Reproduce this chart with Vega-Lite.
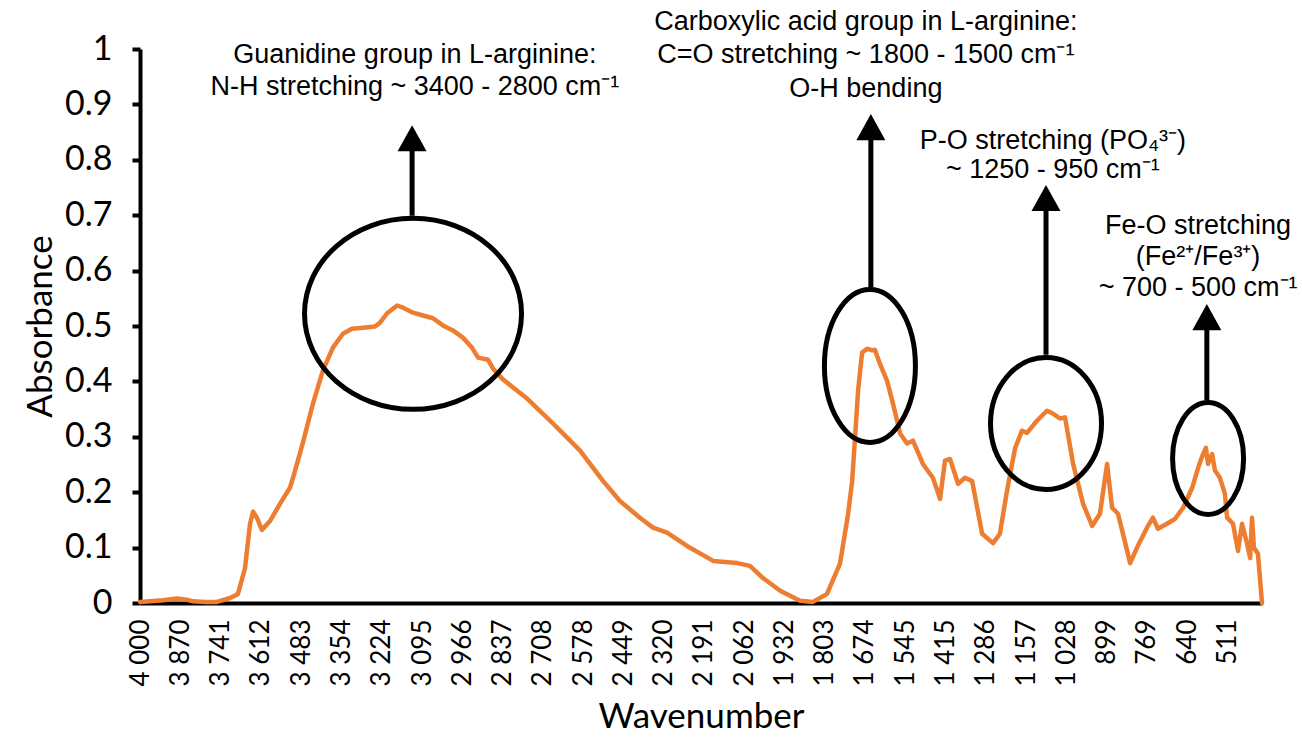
{
  "$schema": "https://vega.github.io/schema/vega-lite/v6.json",
  "width": 1122,
  "height": 554,
  "autosize": {"type": "none"},
  "padding": {"left": 140, "top": 49, "right": 40, "bottom": 139},
  "background": "white",
  "config": {"view": {"stroke": null}},
  "datasets": {
    "spectrum": [
      {"wavenumber": 4000, "absorbance": 0.002},
      {"wavenumber": 3926, "absorbance": 0.005},
      {"wavenumber": 3881, "absorbance": 0.008},
      {"wavenumber": 3850, "absorbance": 0.006},
      {"wavenumber": 3830, "absorbance": 0.003},
      {"wavenumber": 3790, "absorbance": 0.002},
      {"wavenumber": 3753, "absorbance": 0.002},
      {"wavenumber": 3711, "absorbance": 0.009},
      {"wavenumber": 3686, "absorbance": 0.016},
      {"wavenumber": 3663, "absorbance": 0.063},
      {"wavenumber": 3647, "absorbance": 0.143},
      {"wavenumber": 3637, "absorbance": 0.165},
      {"wavenumber": 3625, "absorbance": 0.154},
      {"wavenumber": 3609, "absorbance": 0.132},
      {"wavenumber": 3583, "absorbance": 0.148},
      {"wavenumber": 3551, "absorbance": 0.179},
      {"wavenumber": 3519, "absorbance": 0.208},
      {"wavenumber": 3509, "absorbance": 0.226},
      {"wavenumber": 3477, "absorbance": 0.29},
      {"wavenumber": 3445, "absorbance": 0.36},
      {"wavenumber": 3413, "absorbance": 0.42},
      {"wavenumber": 3381, "absorbance": 0.461},
      {"wavenumber": 3349, "absorbance": 0.486},
      {"wavenumber": 3320, "absorbance": 0.495},
      {"wavenumber": 3284, "absorbance": 0.497},
      {"wavenumber": 3246, "absorbance": 0.499},
      {"wavenumber": 3230, "absorbance": 0.506},
      {"wavenumber": 3207, "absorbance": 0.523},
      {"wavenumber": 3175, "absorbance": 0.537},
      {"wavenumber": 3156, "absorbance": 0.533},
      {"wavenumber": 3124, "absorbance": 0.524},
      {"wavenumber": 3092, "absorbance": 0.519},
      {"wavenumber": 3060, "absorbance": 0.514},
      {"wavenumber": 3028, "absorbance": 0.501},
      {"wavenumber": 2996, "absorbance": 0.492},
      {"wavenumber": 2964, "absorbance": 0.479},
      {"wavenumber": 2935, "absorbance": 0.461},
      {"wavenumber": 2915, "absorbance": 0.443},
      {"wavenumber": 2883, "absorbance": 0.439},
      {"wavenumber": 2867, "absorbance": 0.423},
      {"wavenumber": 2838, "absorbance": 0.405},
      {"wavenumber": 2803, "absorbance": 0.389},
      {"wavenumber": 2758, "absorbance": 0.369},
      {"wavenumber": 2717, "absorbance": 0.347},
      {"wavenumber": 2675, "absorbance": 0.324},
      {"wavenumber": 2652, "absorbance": 0.311},
      {"wavenumber": 2588, "absorbance": 0.275},
      {"wavenumber": 2514, "absorbance": 0.22},
      {"wavenumber": 2460, "absorbance": 0.184},
      {"wavenumber": 2396, "absorbance": 0.154},
      {"wavenumber": 2354, "absorbance": 0.136},
      {"wavenumber": 2309, "absorbance": 0.127},
      {"wavenumber": 2245, "absorbance": 0.103},
      {"wavenumber": 2161, "absorbance": 0.076},
      {"wavenumber": 2084, "absorbance": 0.072},
      {"wavenumber": 2043, "absorbance": 0.067},
      {"wavenumber": 2001, "absorbance": 0.045},
      {"wavenumber": 1946, "absorbance": 0.022},
      {"wavenumber": 1882, "absorbance": 0.004},
      {"wavenumber": 1841, "absorbance": 0.002},
      {"wavenumber": 1796, "absorbance": 0.016},
      {"wavenumber": 1754, "absorbance": 0.071},
      {"wavenumber": 1728, "absorbance": 0.161},
      {"wavenumber": 1715, "absorbance": 0.22},
      {"wavenumber": 1696, "absorbance": 0.383},
      {"wavenumber": 1683, "absorbance": 0.452},
      {"wavenumber": 1667, "absorbance": 0.459},
      {"wavenumber": 1651, "absorbance": 0.456},
      {"wavenumber": 1642, "absorbance": 0.457},
      {"wavenumber": 1626, "absorbance": 0.432},
      {"wavenumber": 1603, "absorbance": 0.401},
      {"wavenumber": 1584, "absorbance": 0.36},
      {"wavenumber": 1561, "absorbance": 0.306},
      {"wavenumber": 1539, "absorbance": 0.288},
      {"wavenumber": 1520, "absorbance": 0.293},
      {"wavenumber": 1488, "absorbance": 0.251},
      {"wavenumber": 1456, "absorbance": 0.226},
      {"wavenumber": 1433, "absorbance": 0.188},
      {"wavenumber": 1417, "absorbance": 0.257},
      {"wavenumber": 1401, "absorbance": 0.26},
      {"wavenumber": 1375, "absorbance": 0.215},
      {"wavenumber": 1353, "absorbance": 0.226},
      {"wavenumber": 1330, "absorbance": 0.22},
      {"wavenumber": 1298, "absorbance": 0.125},
      {"wavenumber": 1263, "absorbance": 0.108},
      {"wavenumber": 1241, "absorbance": 0.125},
      {"wavenumber": 1218, "absorbance": 0.203},
      {"wavenumber": 1192, "absorbance": 0.28},
      {"wavenumber": 1170, "absorbance": 0.311},
      {"wavenumber": 1154, "absorbance": 0.307},
      {"wavenumber": 1122, "absorbance": 0.329},
      {"wavenumber": 1090, "absorbance": 0.347},
      {"wavenumber": 1071, "absorbance": 0.342},
      {"wavenumber": 1048, "absorbance": 0.333},
      {"wavenumber": 1032, "absorbance": 0.335},
      {"wavenumber": 1006, "absorbance": 0.251},
      {"wavenumber": 974, "absorbance": 0.179},
      {"wavenumber": 945, "absorbance": 0.139},
      {"wavenumber": 920, "absorbance": 0.161},
      {"wavenumber": 897, "absorbance": 0.251},
      {"wavenumber": 881, "absorbance": 0.172},
      {"wavenumber": 862, "absorbance": 0.161},
      {"wavenumber": 823, "absorbance": 0.072},
      {"wavenumber": 801, "absorbance": 0.1},
      {"wavenumber": 769, "absorbance": 0.136},
      {"wavenumber": 750, "absorbance": 0.154},
      {"wavenumber": 734, "absorbance": 0.134},
      {"wavenumber": 705, "absorbance": 0.143},
      {"wavenumber": 679, "absorbance": 0.152},
      {"wavenumber": 653, "absorbance": 0.172},
      {"wavenumber": 624, "absorbance": 0.208},
      {"wavenumber": 605, "absorbance": 0.244},
      {"wavenumber": 589, "absorbance": 0.269},
      {"wavenumber": 580, "absorbance": 0.28},
      {"wavenumber": 573, "absorbance": 0.251},
      {"wavenumber": 560, "absorbance": 0.269},
      {"wavenumber": 551, "absorbance": 0.239},
      {"wavenumber": 535, "absorbance": 0.226},
      {"wavenumber": 519, "absorbance": 0.197},
      {"wavenumber": 512, "absorbance": 0.154},
      {"wavenumber": 493, "absorbance": 0.143},
      {"wavenumber": 477, "absorbance": 0.094},
      {"wavenumber": 464, "absorbance": 0.143},
      {"wavenumber": 448, "absorbance": 0.107},
      {"wavenumber": 438, "absorbance": 0.081},
      {"wavenumber": 432, "absorbance": 0.154},
      {"wavenumber": 426, "absorbance": 0.1},
      {"wavenumber": 413, "absorbance": 0.089},
      {"wavenumber": 400, "absorbance": 0.0}
    ],
    "ellipses": [
      {"group": "guanidine", "wavenumber": 3124, "absorbance": 0.522},
      {"group": "carboxylic", "wavenumber": 1658, "absorbance": 0.428},
      {"group": "phosphate", "wavenumber": 1093, "absorbance": 0.324},
      {"group": "iron", "wavenumber": 573, "absorbance": 0.261}
    ],
    "arrows": [
      {"group": "guanidine", "wavenumber": 3127, "absorbance": 0.699, "absorbance2": 0.818, "head": 0.839},
      {"group": "carboxylic", "wavenumber": 1655, "absorbance": 0.57, "absorbance2": 0.838, "head": 0.859},
      {"group": "phosphate", "wavenumber": 1093, "absorbance": 0.448, "absorbance2": 0.709, "head": 0.731},
      {"group": "iron", "wavenumber": 577, "absorbance": 0.366, "absorbance2": 0.495, "head": 0.516}
    ],
    "labels": [
      {"wavenumber": 3118, "absorbance": 0.989, "text": "Guanidine group in L-arginine:"},
      {"wavenumber": 3118, "absorbance": 0.931, "text": "N-H stretching ~ 3400 - 2800 cm⁻¹"},
      {"wavenumber": 1671, "absorbance": 1.049, "text": "Carboxylic acid group in L-arginine:"},
      {"wavenumber": 1671, "absorbance": 0.989, "text": "C=O stretching ~ 1800 - 1500 cm⁻¹"},
      {"wavenumber": 1671, "absorbance": 0.928, "text": "O-H bending"},
      {"wavenumber": 1071, "absorbance": 0.834, "text": "P-O stretching (PO₄³⁻)"},
      {"wavenumber": 1071, "absorbance": 0.782, "text": "~ 1250 - 950 cm⁻¹"},
      {"wavenumber": 605, "absorbance": 0.681, "text": "Fe-O stretching"},
      {"wavenumber": 605, "absorbance": 0.625, "text": "(Fe²⁺/Fe³⁺)"},
      {"wavenumber": 605, "absorbance": 0.569, "text": "~ 700 - 500 cm⁻¹"}
    ]
  },
  "layer": [
    {
      "data": {"name": "spectrum"},
      "mark": {"type": "line", "color": "#ED7D31", "strokeWidth": 4.5, "strokeJoin": "round", "strokeCap": "round"},
      "encoding": {
        "x": {
          "field": "wavenumber", "type": "quantitative",
          "scale": {"domain": [400, 4000], "reverse": true, "nice": false, "zero": false},
          "axis": {
            "title": "Wavenumber",
            "values": [4000,3870,3741,3612,3483,3354,3224,3095,2966,2837,2708,2578,2449,2320,2191,2062,1932,1803,1674,1545,1415,1286,1157,1028,899,769,640,511],
            "labelExpr": "replace(format(datum.value, ','), ',', ' ')",
            "labelAngle": -90, "labelAlign": "right", "labelBaseline": "middle",
            "labelFont": "Lato", "labelFontSize": 26, "labelColor": "black",
            "labelPadding": 16, "labelOverlap": false, "labelBound": false, "labelFlush": false,
            "ticks": false, "grid": false,
            "domainColor": "black", "domainWidth": 4,
            "titleFont": "Lato", "titleFontSize": 35, "titleFontWeight": "normal", "titleColor": "black", "titlePadding": 14
          }
        },
        "y": {
          "field": "absorbance", "type": "quantitative",
          "scale": {"domain": [0, 1], "nice": false},
          "axis": {
            "title": "Absorbance",
            "values": [0, 0.1, 0.2, 0.3, 0.4, 0.5, 0.6, 0.7, 0.8, 0.9, 1],
            "format": ".1~f",
            "labelFont": "Lato", "labelFontSize": 34, "labelColor": "black", "labelPadding": 20,
            "grid": false, "tickColor": "black", "tickWidth": 4, "tickSize": 8,
            "domainColor": "black", "domainWidth": 4,
            "titleFont": "Lato", "titleFontSize": 35, "titleFontWeight": "normal", "titleColor": "black", "titlePadding": 6
          }
        }
      }
    },
    {
      "data": {"name": "ellipses"},
      "mark": {"type": "point", "filled": false, "stroke": "black", "strokeWidth": 5, "size": 40000, "opacity": 1},
      "encoding": {
        "x": {"field": "wavenumber", "type": "quantitative"},
        "y": {"field": "absorbance", "type": "quantitative"},
        "shape": {
          "field": "group", "type": "nominal", "legend": null,
          "scale": {
            "domain": ["guanidine", "carboxylic", "phosphate", "iron"],
            "range": [
              "M -1.085 0 A 1.085 0.955 0 1 0 1.085 0 A 1.085 0.955 0 1 0 -1.085 0 Z",
              "M -0.455 0 A 0.455 0.765 0 1 0 0.455 0 A 0.455 0.765 0 1 0 -0.455 0 Z",
              "M -0.555 0 A 0.555 0.66 0 1 0 0.555 0 A 0.555 0.66 0 1 0 -0.555 0 Z",
              "M -0.355 0 A 0.355 0.56 0 1 0 0.355 0 A 0.355 0.56 0 1 0 -0.355 0 Z"
            ]
          }
        }
      }
    },
    {
      "data": {"name": "arrows"},
      "mark": {"type": "rule", "color": "black", "strokeWidth": 5},
      "encoding": {
        "x": {"field": "wavenumber", "type": "quantitative"},
        "y": {"field": "absorbance", "type": "quantitative"},
        "y2": {"field": "absorbance2"}
      }
    },
    {
      "data": {"name": "arrows"},
      "mark": {"type": "point", "filled": true, "color": "black", "opacity": 1, "size": 841, "shape": "M 0 -0.9 L 1 0.9 L -1 0.9 Z"},
      "encoding": {
        "x": {"field": "wavenumber", "type": "quantitative"},
        "y": {"field": "head", "type": "quantitative"}
      }
    },
    {
      "data": {"name": "labels"},
      "mark": {"type": "text", "font": "Liberation Sans", "fontSize": 27, "color": "black", "align": "center", "baseline": "middle"},
      "encoding": {
        "x": {"field": "wavenumber", "type": "quantitative"},
        "y": {"field": "absorbance", "type": "quantitative"},
        "text": {"field": "text"}
      }
    }
  ]
}
